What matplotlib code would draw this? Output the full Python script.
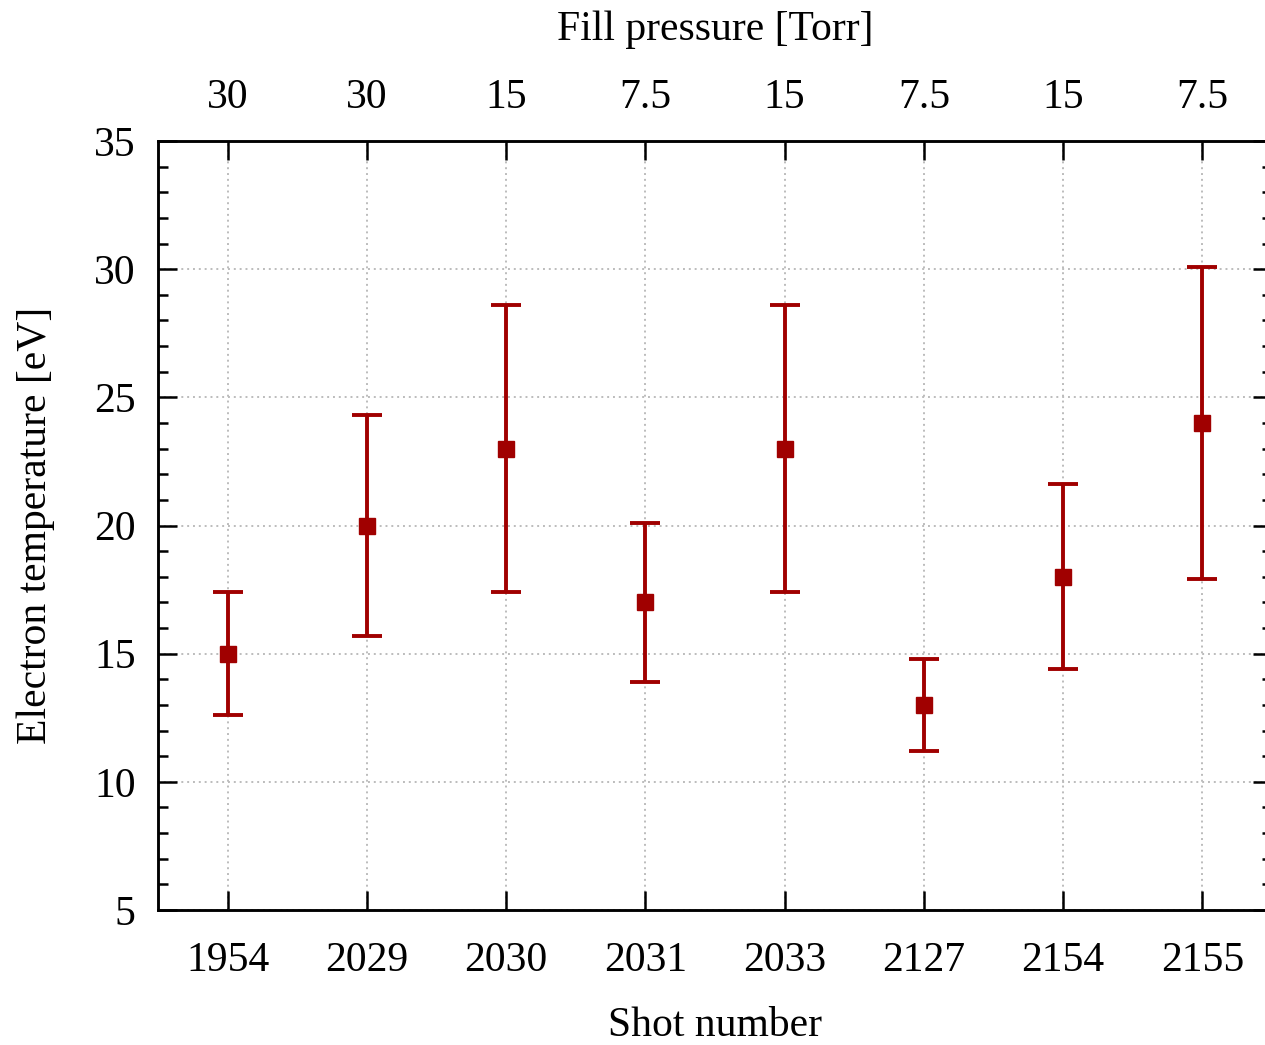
import numpy as np
import matplotlib.pyplot as plt
from matplotlib.ticker import MultipleLocator

plt.rcParams['font.family'] = ['Liberation Serif', 'DejaVu Serif']

shots = ['1954', '2029', '2030', '2031', '2033', '2127', '2154', '2155']
pressure = ['30', '30', '15', '7.5', '15', '7.5', '15', '7.5']
te = [15, 20, 23, 17, 23, 13, 18, 24]
te_err = [2.4, 4.3, 5.6, 3.1, 5.6, 1.8, 3.6, 6.1]

red = '#a00000'
fs = 30

fig = plt.figure(figsize=(12.65, 10.45), dpi=100)
# axes right edge sits just past the figure edge
ax = fig.add_axes([158 / 1265, 135 / 1045, (1272 - 158) / 1265, (910 - 141) / 1045])

x = np.arange(1, len(shots) + 1)
ax.errorbar(x, te, yerr=te_err, fmt='s', color=red, ecolor=red,
            markersize=12, elinewidth=2.8, capsize=11, capthick=2.8, zorder=3)

ax.set_xlim(0.5, len(shots) + 0.5)
ax.set_ylim(5, 35)
ax.set_xticks(x)
ax.set_xticklabels(shots)
ax.yaxis.set_major_locator(MultipleLocator(5))
ax.yaxis.set_minor_locator(MultipleLocator(1))
ax.tick_params(axis='x', which='major', direction='in', length=14, width=1.8,
               labelsize=fs, pad=23)
ax.tick_params(axis='y', which='major', direction='in', length=14, width=1.8,
               labelsize=fs, pad=16, right=True)
ax.tick_params(axis='y', which='minor', direction='in', length=7, width=1.8, right=True)
ax.tick_params(axis='x', which='minor', bottom=False, top=False)
ax.grid(True, which='major', color='#bcbcbc', linestyle=(0, (1, 2)), linewidth=1.4)
for s in ax.spines.values():
    s.set_linewidth(1.8)
ax.spines['right'].set_visible(False)

ax.set_xlabel('Shot number', fontsize=fs, labelpad=19)
ax.set_ylabel('Electron temperature [eV]', fontsize=fs, labelpad=28)

top = ax.twiny()
top.set_xlim(ax.get_xlim())
top.set_xticks(x)
top.set_xticklabels(pressure)
top.tick_params(axis='x', direction='in', length=14, width=1.8, labelsize=fs, pad=17)
top.set_xlabel('Fill pressure [Torr]', fontsize=fs, labelpad=28)
for s in top.spines.values():
    s.set_linewidth(1.8)
top.spines['right'].set_visible(False)

fig.savefig('out.png', dpi=100)
